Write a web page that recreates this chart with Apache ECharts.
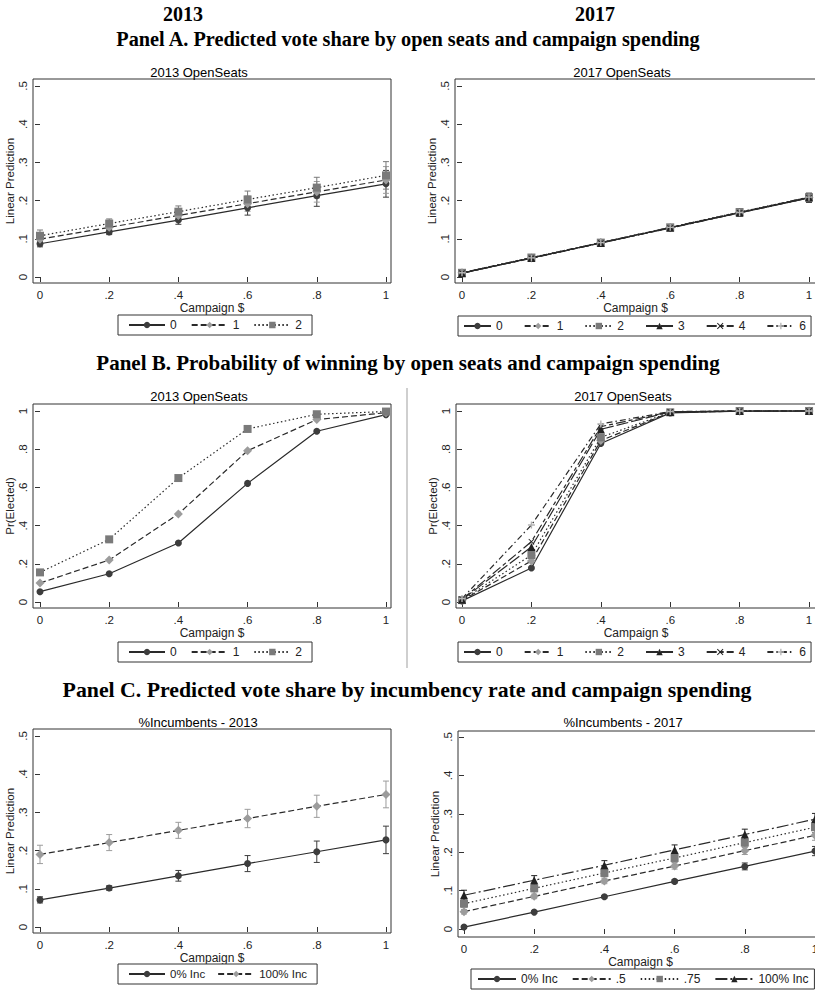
<!DOCTYPE html>
<html>
<head>
<meta charset="utf-8">
<script src="https://cdn.jsdelivr.net/npm/echarts@6/dist/echarts.min.js"></script>
<style>
  html, body { margin: 0; padding: 0; background: #fff; }
  #chart { width: 815px; height: 992px; }
</style>
</head>
<body>
<div id="chart"></div>
<script>
// ── Data ────────────────────────────────────────────────────────────────
const campaign = [0, 0.2, 0.4, 0.6, 0.8, 1];
const xTicks = [0, 0.2, 0.4, 0.6, 0.8, 1];
const yTicksShare = [0, 0.1, 0.2, 0.3, 0.4, 0.5];
const yTicksProb = [0, 0.2, 0.4, 0.6, 0.8, 1];

// Panel A, 2013 (linear prediction, with 95% CI half-widths)
const a13_open0 = [0.087, 0.118, 0.149, 0.181, 0.213, 0.244];
const a13_open1 = [0.099, 0.130, 0.161, 0.192, 0.223, 0.254];
const a13_open2 = [0.108, 0.140, 0.171, 0.203, 0.234, 0.266];
const a13_ci0 = [0.008, 0.007, 0.011, 0.019, 0.028, 0.035];
const a13_ci1 = [0.010, 0.009, 0.012, 0.020, 0.027, 0.035];
const a13_ci2 = [0.015, 0.012, 0.015, 0.022, 0.027, 0.036];

// Panel A, 2017
const a17_open0 = [0.010, 0.050, 0.089, 0.129, 0.168, 0.207];
const a17_open1 = [0.011, 0.050, 0.090, 0.129, 0.169, 0.208];
const a17_open2 = [0.011, 0.051, 0.090, 0.130, 0.170, 0.209];
const a17_open3 = [0.010, 0.050, 0.089, 0.129, 0.169, 0.208];
const a17_open4 = [0.010, 0.049, 0.089, 0.128, 0.168, 0.207];
const a17_open6 = [0.011, 0.050, 0.090, 0.130, 0.169, 0.209];
const a17_ci = [0.004, 0.004, 0.004, 0.005, 0.009, 0.012];

// Panel B, 2013 (probability of winning)
const b13_open0 = [0.054, 0.148, 0.309, 0.621, 0.894, 0.981];
const b13_open1 = [0.099, 0.220, 0.461, 0.792, 0.955, 0.991];
const b13_open2 = [0.155, 0.328, 0.649, 0.906, 0.983, 0.997];

// Panel B, 2017
const b17_open0 = [0.006, 0.178, 0.830, 0.990, 0.999, 1.000];
const b17_open1 = [0.008, 0.215, 0.845, 0.992, 0.999, 1.000];
const b17_open2 = [0.010, 0.246, 0.862, 0.993, 1.000, 1.000];
const b17_open3 = [0.012, 0.288, 0.904, 0.995, 1.000, 1.000];
const b17_open4 = [0.014, 0.316, 0.918, 0.996, 1.000, 1.000];
const b17_open6 = [0.018, 0.403, 0.932, 0.997, 1.000, 1.000];

// Panel C, 2013 (share of incumbents)
const c13_inc0 = [0.071, 0.102, 0.134, 0.166, 0.197, 0.228];
const c13_inc100 = [0.190, 0.221, 0.253, 0.284, 0.316, 0.347];
const c13_ci0 = [0.008, 0.006, 0.014, 0.021, 0.028, 0.036];
const c13_ci100 = [0.024, 0.021, 0.021, 0.024, 0.029, 0.035];

// Panel C, 2017
const c17_inc0 = [0.005, 0.044, 0.084, 0.124, 0.163, 0.203];
const c17_inc50 = [0.045, 0.085, 0.125, 0.164, 0.204, 0.244];
const c17_inc75 = [0.066, 0.106, 0.146, 0.185, 0.225, 0.265];
const c17_inc100 = [0.088, 0.127, 0.166, 0.206, 0.246, 0.286];
const c17_ci0 = [0.003, 0.003, 0.003, 0.004, 0.009, 0.012];
const c17_ci50 = [0.006, 0.006, 0.007, 0.008, 0.010, 0.013];
const c17_ci75 = [0.009, 0.009, 0.010, 0.011, 0.012, 0.014];
const c17_ci100 = [0.013, 0.012, 0.012, 0.013, 0.014, 0.015];

// ── Styles (Stata s2mono look) ─────────────────────────────────────────
const FONT = '"Liberation Sans", Arial, sans-serif';
const SERIF = '"Liberation Serif", "Times New Roman", serif';
const INK = '#222';
const LINE = '#2a2a2a';
const xMark = 'path://M1,0L5,4L9,0L10,1L6,5L10,9L9,10L5,6L1,10L0,9L4,5L0,1Z';
const plusMark = 'path://M4,0H6V4H10V6H6V10H4V6H0V4H4Z';

const styles = {
  s0:   { symbol: 'circle',   color: '#3d3d3d', size: 7, dash: 'solid' },
  s1:   { symbol: 'diamond',  color: '#9c9c9c', size: 9, dash: [6, 3] },
  s2:   { symbol: 'rect',     color: '#7a7a7a', size: 8, dash: [1.5, 2.5] },
  s3:   { symbol: 'triangle', color: '#222',    size: 8, dash: [12, 3] },
  s4:   { symbol: xMark,      color: '#222',    size: 6, dash: [10, 3, 4, 3] },
  s6:   { symbol: plusMark,   color: '#b4b4b4', size: 7, dash: [6, 3, 1.5, 3] },
  sInc: { symbol: 'triangle', color: '#222',    size: 8, dash: [12, 3, 2, 3] },
};

const tickFmt = v => (v === 0 ? '0' : v === 1 ? '1' : String(+v.toFixed(1)).replace(/^0/, ''));

// ── Builders ───────────────────────────────────────────────────────────
const grids = [], xAxes = [], yAxes = [], series = [], legends = [];

function panel(box, xr, yr, yName, yTicks, yNameGap) {
  const gi = grids.length;
  grids.push({ left: box[0], top: box[1], width: box[2], height: box[3],
    show: true, borderColor: '#333', borderWidth: 1, backgroundColor: '#fff',
    containLabel: false, outerBoundsMode: 'none' });
  xAxes.push({
    type: 'value', gridIndex: gi, min: xr[0], max: xr[1],
    name: 'Campaign $', nameLocation: 'middle', nameGap: 17,
    nameTextStyle: { fontSize: 12, color: INK, fontFamily: FONT },
    axisLine: { show: false }, splitLine: { show: false },
    axisTick: { show: true, length: 5, customValues: xTicks, lineStyle: { color: '#333' } },
    axisLabel: { customValues: xTicks, formatter: tickFmt, fontSize: 11.5, color: INK, margin: 6, fontFamily: FONT },
  });
  yAxes.push({
    type: 'value', gridIndex: gi, min: yr[0], max: yr[1],
    name: yName, nameLocation: 'middle', nameGap: yNameGap, nameRotate: 90,
    nameTextStyle: { fontSize: 11.5, color: INK, fontFamily: FONT },
    axisLine: { show: false }, splitLine: { show: false },
    axisTick: { show: true, length: 5, customValues: yTicks, lineStyle: { color: '#333' } },
    axisLabel: { customValues: yTicks, formatter: tickFmt, rotate: 90, fontSize: 11.5, color: INK, margin: 4, fontFamily: FONT },
  });
  return gi;
}

function addLine(gi, name, styleKey, values) {
  const st = styles[styleKey];
  series.push({
    type: 'line', name, xAxisIndex: gi, yAxisIndex: gi, z: 3,
    data: campaign.map((x, i) => [x, values[i]]),
    symbol: st.symbol, symbolSize: st.size, showSymbol: true,
    itemStyle: { color: st.color, opacity: 1 },
    lineStyle: { color: LINE, width: 1.2, type: st.dash },
    emphasis: { disabled: true }, silent: true, animation: false,
  });
}

function addCI(gi, styleKey, values, half) {
  const st = styles[styleKey];
  series.push({
    type: 'custom', name: 'ci-' + gi + '-' + styleKey, xAxisIndex: gi, yAxisIndex: gi, z: 2,
    data: campaign.map((x, i) => [x, values[i] - half[i], values[i] + half[i]]),
    encode: { x: 0, y: [1, 2] }, silent: true, animation: false,
    renderItem(params, api) {
      const lo = api.coord([api.value(0), api.value(1)]);
      const hi = api.coord([api.value(0), api.value(2)]);
      const w = 3;
      const stroke = { stroke: st.color, lineWidth: 1 };
      return { type: 'group', children: [
        { type: 'line', shape: { x1: lo[0], y1: lo[1], x2: hi[0], y2: hi[1] }, style: stroke },
        { type: 'line', shape: { x1: lo[0] - w, y1: lo[1], x2: lo[0] + w, y2: lo[1] }, style: stroke },
        { type: 'line', shape: { x1: hi[0] - w, y1: hi[1], x2: hi[0] + w, y2: hi[1] }, style: stroke },
      ] };
    },
  });
}

function addLegend(left, top, names, opts) {
  legends.push(Object.assign({
    left, top, orient: 'horizontal', data: names, selectedMode: false,
    padding: [4, 10], itemGap: 14, itemWidth: 36, itemHeight: 8,
    borderColor: '#333', borderWidth: 1, backgroundColor: '#fff',
    formatter: n => n.trim(),
    textStyle: { fontSize: 12, color: INK, fontFamily: FONT },
  }, opts || {}));
}
const wideLegend = { width: 420, padding: [4, 5], itemWidth: 27, itemGap: 21 };

// ── Panel A ────────────────────────────────────────────────────────────
let g = panel([33, 79, 358, 204], [-0.0202, 1.0145], [-0.0157, 0.5183], 'Linear Prediction', yTicksShare, 17);
addCI(g, 's0', a13_open0, a13_ci0); addCI(g, 's1', a13_open1, a13_ci1); addCI(g, 's2', a13_open2, a13_ci2);
addLine(g, '0', 's0', a13_open0); addLine(g, '1', 's1', a13_open1); addLine(g, '2', 's2', a13_open2);
addLegend(118, 315, ['0', '1', '2']);

g = panel([455, 79, 361, 204], [-0.0202, 1.0202], [-0.0157, 0.5183], 'Linear Prediction', yTicksShare, 16);
[['0', 's0', a17_open0], ['1', 's1', a17_open1], ['2', 's2', a17_open2],
 ['3', 's3', a17_open3], ['4', 's4', a17_open4], ['6', 's6', a17_open6]].forEach(([n, k, v]) => {
  addCI(g, k, v, a17_ci); addLine(g, n, k, v);
});
addLegend(458, 316, ['0', '1', '2', '3', '4', '6'], wideLegend);

// ── Panel B ────────────────────────────────────────────────────────────
g = panel([33, 404, 358, 204], [-0.0202, 1.0145], [-0.0314, 1.0366], 'Pr(Elected)', yTicksProb, 17);
addLine(g, '0', 's0', b13_open0); addLine(g, '1', 's1', b13_open1); addLine(g, '2', 's2', b13_open2);
addLegend(118, 642, ['0', '1', '2']);

g = panel([456, 404, 360, 204], [-0.0173, 1.02], [-0.0314, 1.0366], 'Pr(Elected)', yTicksProb, 16);
addLine(g, '0', 's0', b17_open0); addLine(g, '1', 's1', b17_open1); addLine(g, '2', 's2', b17_open2);
addLine(g, '3', 's3', b17_open3); addLine(g, '4', 's4', b17_open4); addLine(g, '6', 's6', b17_open6);
addLegend(458, 642, ['0', '1', '2', '3', '4', '6'], wideLegend);

// ── Panel C ────────────────────────────────────────────────────────────
g = panel([33, 729, 358, 204], [-0.0202, 1.0145], [-0.0157, 0.5183], 'Linear Prediction', yTicksShare, 17);
addCI(g, 's0', c13_inc0, c13_ci0); addCI(g, 's1', c13_inc100, c13_ci100);
addLine(g, '0% Inc', 's0', c13_inc0); addLine(g, '100% Inc', 's1', c13_inc100);
addLegend(118, 964, ['0% Inc', '100% Inc'], { itemGap: 12, textStyle: { fontSize: 11.5, color: INK, fontFamily: FONT } });

g = panel([458, 731, 365, 206], [-0.0171, 1.0228], [-0.0208, 0.5156], 'Linear Prediction', yTicksShare, 16);
addCI(g, 's0', c17_inc0, c17_ci0); addCI(g, 's1', c17_inc50, c17_ci50);
addCI(g, 's2', c17_inc75, c17_ci75); addCI(g, 'sInc', c17_inc100, c17_ci100);
addLine(g, '0% Inc', 's0', c17_inc0); addLine(g, '.5', 's1', c17_inc50);
addLine(g, '.75', 's2', c17_inc75); addLine(g, '100% Inc ', 'sInc', c17_inc100);
addLegend(471, 969, ['0% Inc', '.5', '.75', '100% Inc '], { width: 420, padding: [4, 6], itemWidth: 38, itemGap: 14 });

// ── Headings ───────────────────────────────────────────────────────────
function label(x, y, text, font) {
  return { type: 'text', x, y, silent: true,
    style: { text, font, fill: '#000', textAlign: 'center', textVerticalAlign: 'middle', align: 'center', verticalAlign: 'middle' } };
}
const headFont = s => 'bold ' + s + 'px ' + SERIF;
const subFont = '13px ' + FONT;
const graphics = [
  label(183, 14, '2013', headFont(20)),
  label(595, 14, '2017', headFont(20)),
  label(408, 39, 'Panel A. Predicted vote share by open seats and campaign spending', headFont(20.3)),
  label(408, 363, 'Panel B. Probability of winning by open seats and campaign spending', headFont(21)),
  label(407, 690, 'Panel C. Predicted vote share by incumbency rate and campaign spending', headFont(21.8)),
  label(199, 72, '2013 OpenSeats', subFont),
  label(622, 72, '2017 OpenSeats', subFont),
  label(199, 396, '2013 OpenSeats', subFont),
  label(623, 396, '2017 OpenSeats', subFont),
  label(198, 722, '%Incumbents - 2013', subFont),
  label(623, 722, '%Incumbents - 2017', subFont),
  { type: 'line', silent: true, shape: { x1: 407, y1: 388, x2: 407, y2: 668 }, style: { stroke: '#cfcfcf', lineWidth: 2 } },
];

const chart = echarts.init(document.getElementById('chart'), null, { renderer: 'svg' });
chart.setOption({
  animation: false,
  backgroundColor: '#fff',
  tooltip: { show: false },
  grid: grids, xAxis: xAxes, yAxis: yAxes,
  legend: legends,
  series,
  graphic: graphics,
});
</script>
</body>
</html>
